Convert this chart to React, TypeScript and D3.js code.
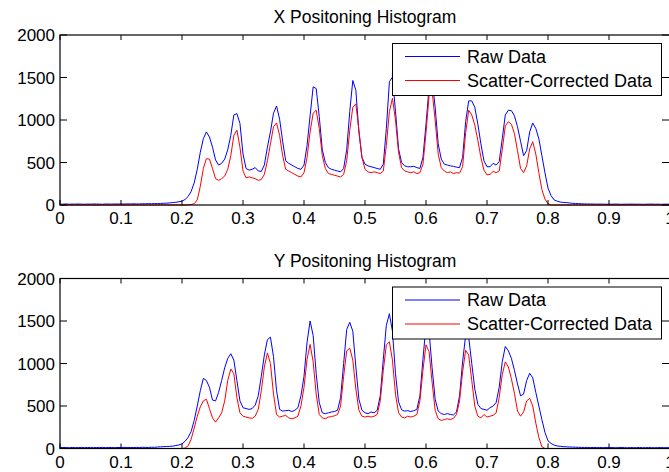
import React from 'react';
import * as d3 from 'd3';

// histogram bins, 0 .. 1 in steps of 0.005
const bins = d3.range(201).map(i => i / 200);

const xRaw = [
  8, 10, 12, 9, 11, 10, 12, 10, 9, 11, 10, 12, 11, 10, 9, 12, 11, 10, 12, 11,
  12, 11, 13, 12, 14, 13, 12, 15, 14, 16, 15, 17, 16, 18, 20, 22, 25, 28, 32, 38,
  45, 65, 100, 160, 260, 420, 620, 780, 860, 800, 680, 530, 470, 490, 540, 650, 820, 1060, 1075, 960,
  600, 430, 410, 420, 440, 400, 395, 470, 680, 860, 1080, 1165, 1010, 750, 520, 490, 470, 450, 430, 420,
  470, 700, 1050, 1390, 1370, 1040, 650, 500, 440, 420, 410, 400, 390, 430, 650, 1100, 1465, 1350, 860, 560,
  480, 460, 450, 440, 430, 420, 480, 900, 1450, 1505, 1100, 660, 500, 460, 450, 450, 455, 440, 430, 560,
  950, 1380, 1480, 1150, 720, 540, 480, 470, 460, 455, 445, 440, 560, 980, 1225, 1225, 1150, 950, 720, 520,
  450, 450, 490, 470, 510, 780, 1060, 1115, 1110, 1050, 920, 750, 580, 640, 860, 965, 900, 780, 580, 380,
  200, 110, 60, 45, 35, 30, 28, 24, 20, 18, 16, 14, 13, 12, 12, 11, 10, 11, 10, 9,
  10, 9, 11, 10, 8, 10, 9, 11, 10, 9, 10, 8, 9, 10, 11, 9, 10, 8, 9, 10,
  9,
];

const xCorrected = [
  0, 0, 0, 0, 0, 0, 0, 0, 0, 0, 0, 0, 0, 0, 0, 0, 0, 0, 0, 0,
  0, 0, 0, 0, 0, 0, 0, 0, 0, 0, 0, 0, 0, 0, 0, 0, 0, 0, 0, 0,
  0, 0, 2, 5, 15, 60, 220, 430, 545, 540, 430, 310, 290, 310, 340, 420, 580, 820, 880, 680,
  400, 320, 330, 320, 310, 290, 300, 360, 520, 720, 920, 965, 820, 580, 420, 400, 380, 360, 340, 330,
  380, 560, 860, 1080, 1115, 900, 580, 430, 370, 360, 350, 340, 330, 360, 520, 880, 1150, 1190, 880, 560,
  420, 390, 380, 390, 380, 370, 400, 700, 1100, 1255, 1000, 620, 440, 400, 390, 380, 390, 370, 380, 480,
  850, 1280, 1340, 1000, 600, 440, 400, 380, 390, 370, 380, 375, 450, 850, 1115, 1060, 940, 760, 560, 410,
  355, 360, 395, 380, 400, 650, 930, 980, 950, 840, 640, 430, 380, 460, 660, 745, 600, 380, 180, 70,
  15, 0, 0, 0, 0, 0, 0, 0, 0, 0, 0, 0, 0, 0, 0, 0, 0, 0, 0, 0,
  0, 0, 0, 0, 0, 0, 0, 0, 0, 0, 0, 0, 0, 0, 0, 0, 0, 0, 0, 0,
  0,
];

const yRaw = [
  10, 12, 11, 9, 12, 10, 11, 13, 10, 12, 11, 10, 12, 11, 13, 10, 12, 11, 10, 12,
  11, 13, 12, 12, 11, 13, 12, 14, 13, 12, 15, 14, 18, 20, 22, 24, 25, 28, 35, 42,
  55, 85, 130, 200, 330, 500, 680, 825, 800, 720, 570, 560, 660, 800, 950, 1060, 1115, 1040, 800, 560,
  480, 470, 460, 470, 510, 620, 850, 1100, 1280, 1310, 1080, 680, 460, 440, 445, 450, 435, 450, 480, 620,
  850, 1250, 1500, 1330, 880, 540, 420, 410, 420, 430, 435, 450, 600, 1000, 1400, 1485, 1380, 960, 580, 450,
  420, 410, 430, 420, 450, 620, 1050, 1450, 1585, 1380, 880, 550, 455, 440, 445, 435, 445, 460, 620, 1050,
  1450, 1380, 950, 580, 440, 410, 400, 410, 400, 395, 430, 620, 1020, 1330, 1310, 1000, 700, 520, 470, 460,
  450, 480, 500, 540, 720, 1020, 1200, 1150, 1060, 920, 760, 620, 640, 800, 885, 830, 660, 500, 340, 190,
  90, 60, 40, 30, 26, 22, 20, 18, 17, 15, 14, 13, 12, 12, 11, 12, 10, 11, 10, 11,
  10, 11, 9, 10, 12, 10, 9, 11, 10, 10, 12, 9, 10, 11, 10, 9, 10, 11, 9, 10,
  10,
];

const yCorrected = [
  0, 0, 0, 0, 0, 0, 0, 0, 0, 0, 0, 0, 0, 0, 0, 0, 0, 0, 0, 0,
  0, 0, 0, 0, 0, 0, 0, 0, 0, 0, 0, 0, 0, 0, 0, 0, 0, 0, 0, 0,
  0, 5, 30, 110, 240, 380, 490, 560, 580, 470, 360, 310, 360, 420, 560, 800, 935, 880, 600, 420,
  380, 370, 360, 355, 380, 460, 680, 960, 1125, 1000, 640, 400, 370, 380, 390, 360, 350, 360, 380, 500,
  720, 1050, 1225, 1020, 640, 400, 360, 350, 370, 375, 385, 400, 500, 850, 1150, 1180, 1040, 700, 450, 380,
  370, 380, 370, 380, 400, 560, 920, 1220, 1255, 1040, 640, 420, 370, 360, 380, 370, 380, 400, 560, 920,
  1220, 1140, 780, 450, 350, 330, 340, 350, 340, 355, 400, 560, 900, 1155, 1100, 800, 500, 380, 360, 400,
  370, 380, 390, 420, 600, 870, 1020, 960, 820, 650, 440, 380, 430, 560, 590, 500, 300, 130, 20, 0,
  0, 0, 0, 0, 0, 0, 0, 0, 0, 0, 0, 0, 0, 0, 0, 0, 0, 0, 0, 0,
  0, 0, 0, 0, 0, 0, 0, 0, 0, 0, 0, 0, 0, 0, 0, 0, 0, 0, 0, 0,
  0,
];

const xTicks = [0, 0.1, 0.2, 0.3, 0.4, 0.5, 0.6, 0.7, 0.8, 0.9, 1];
const yTicks = [0, 500, 1000, 1500, 2000];
const seriesNames = ['Raw Data', 'Scatter-Corrected Data'];
const seriesColors = ['#0000ff', '#ff0000'];

const W = 669;
const H = 472;
const font = '"Liberation Sans", Arial, Helvetica, sans-serif';

function Panel({ top, title, raw, corrected }) {
  const left = 60, right = 670, plotH = 170;
  const x = d3.scaleLinear().domain([0, 1]).range([left, right]);
  const y = d3.scaleLinear().domain([0, 2000]).range([top + plotH, top]);
  const line = d3.line<number>()
    .x((d, i) => x(bins[i]))
    .y(d => y(d));
  const bottom = top + plotH;
  const lx = 392.5, ly = top + 8.5;

  return (
    <g>
      <text x={(left + right) / 2} y={top - 12} textAnchor="middle" fontSize={17.5} fontFamily={font}>{title}</text>
      <path d={line(raw) || ''} fill="none" stroke={seriesColors[0]} strokeWidth={1} />
      <path d={line(corrected) || ''} fill="none" stroke={seriesColors[1]} strokeWidth={1} />
      {/* box */}
      <rect x={left} y={top} width={right - left} height={plotH} fill="none" stroke="#000" strokeWidth={1.2} />
      {xTicks.map(t => (
        <g key={'x' + t}>
          <line x1={x(t)} x2={x(t)} y1={bottom} y2={bottom - 5} stroke="#000" />
          <line x1={x(t)} x2={x(t)} y1={top} y2={top + 5} stroke="#000" />
          <text x={x(t)} y={bottom + 19} textAnchor="middle" fontSize={17} fontFamily={font}>{t}</text>
        </g>
      ))}
      {yTicks.map(t => (
        <g key={'y' + t}>
          <line x1={left} x2={left + 7} y1={y(t)} y2={y(t)} stroke="#000" />
          <line x1={right - 8} x2={right} y1={y(t)} y2={y(t)} stroke="#000" />
          <text x={left - 5} y={y(t) + 6} textAnchor="end" fontSize={17} fontFamily={font}>{t}</text>
        </g>
      ))}
      {/* legend */}
      <rect x={lx} y={ly} width={269} height={52} fill="#fff" stroke="#000" strokeWidth={1} />
      {seriesNames.map((name, i) => (
        <g key={name}>
          <line x1={405} x2={460} y1={ly + 13 + i * 24} y2={ly + 13 + i * 24} stroke={seriesColors[i]} strokeWidth={1} />
          <text x={467} y={ly + 19 + i * 24} fontSize={18} fontFamily={font}>{name}</text>
        </g>
      ))}
    </g>
  );
}

export default function App() {
  return (
    <svg width={W} height={H} style={{ position: 'absolute', left: 0, top: 0, background: '#fff' }}>
      <rect width={W} height={H} fill="#fff" />
      <Panel top={35} title="X Positoning Histogram" raw={xRaw} corrected={xCorrected} />
      <Panel top={278.5} title="Y Positoning Histogram" raw={yRaw} corrected={yCorrected} />
    </svg>
  );
}
